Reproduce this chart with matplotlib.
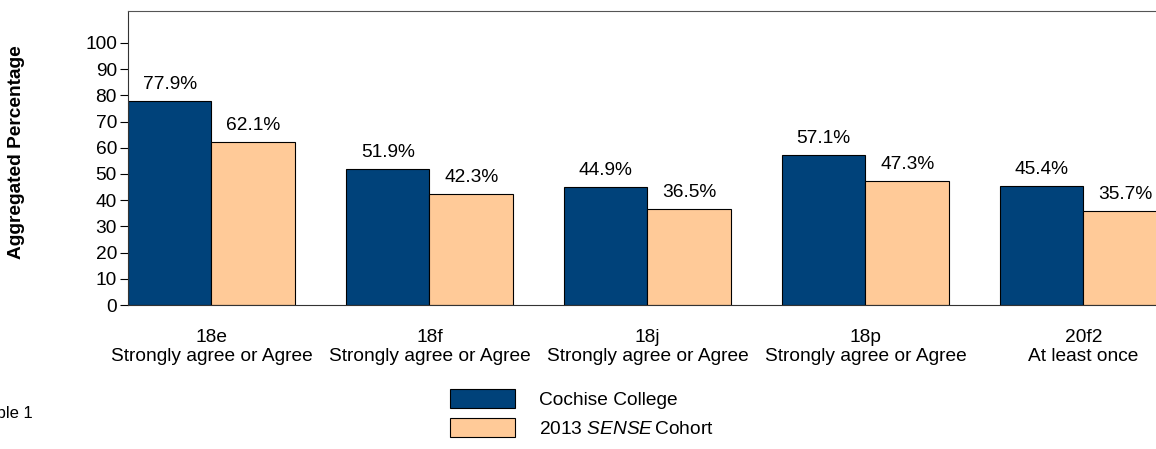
import matplotlib.pyplot as plt
from matplotlib.patches import Patch
import numpy as np

plt.rcParams['font.family'] = ['Liberation Sans', 'DejaVu Sans']
plt.rcParams['mathtext.fontset'] = 'custom'
plt.rcParams['mathtext.rm'] = 'Liberation Sans'
plt.rcParams['mathtext.it'] = 'Liberation Sans:italic'

items = ["18e", "18f", "18j", "18p", "20f2"]
answers = ["Strongly agree or Agree", "Strongly agree or Agree", "Strongly agree or Agree",
           "Strongly agree or Agree", "At least once"]
college = [77.9, 51.9, 44.9, 57.1, 45.4]
cohort = [62.1, 42.3, 36.5, 47.3, 35.7]

blue = "#00427A"
peach = "#FFCA98"
fs = 13.8

fig = plt.figure(figsize=(11.56, 4.49), dpi=100)
ax = fig.add_axes([128/1156, 1 - 305/449, 1 - 128/1156, (305 - 11)/449])

x = np.arange(len(items))
w = 0.383
b1 = ax.bar(x - w/2, college, width=w, color=blue, edgecolor="black", linewidth=0.8)
b2 = ax.bar(x + w/2, cohort, width=w, color=peach, edgecolor="black", linewidth=0.8)
ax.bar_label(b1, fmt="%.1f%%", padding=6, fontsize=fs)
ax.bar_label(b2, fmt="%.1f%%", padding=6, fontsize=fs)

ax.set_xlim(-0.383, 4.333)
ax.set_ylim(0, 112.2)
ax.set_yticks(range(0, 101, 10))
ax.tick_params(axis="y", labelsize=fs, length=6, width=0.8, pad=2)
ax.set_xticks(x)
ax.set_xticklabels([f"{a}\n{b}" for a, b in zip(items, answers)], fontsize=fs, linespacing=1.15)
ax.tick_params(axis="x", length=0, pad=17)

ax.spines["right"].set_visible(False)
ax.spines["top"].set_color("#555555")
ax.spines["left"].set_color("#333333")
ax.spines["bottom"].set_color("#333333")

fig.text(17/1156, 1 - 152/449, "Aggregated Percentage", rotation=90, fontsize=fs,
         fontweight="bold", ha="center", va="center")
fig.text(33/1156, 1 - 413/449, "Table 1", fontsize=12, ha="right", va="center")

handles = [Patch(facecolor=blue, edgecolor="black", linewidth=0.8),
           Patch(facecolor=peach, edgecolor="black", linewidth=0.8)]
fig.legend(handles, ["Cochise College", "2013 $\\mathit{SENSE}\\,$Cohort"],
           loc="upper left", bbox_to_anchor=(450/1156, 1 - 389/449), frameon=False,
           fontsize=fs, borderpad=0, borderaxespad=0, handlelength=3.4, handleheight=1.15,
           handletextpad=1.25, labelspacing=0.45)

fig.savefig("out.png", dpi=100)
